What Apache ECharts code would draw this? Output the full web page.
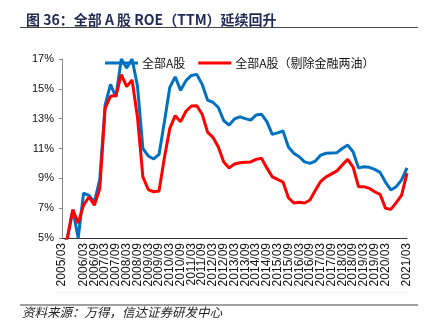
<!DOCTYPE html>
<html>
<head>
<meta charset="utf-8">
<script src="https://cdn.jsdelivr.net/npm/echarts@6/dist/echarts.min.js"></script>
<style>
html,body{margin:0;padding:0;background:#fff;}
#chart{width:438px;height:323px;}
</style>
</head>
<body>
<div id="chart"></div>
<script>
var categories = [
'2005/03','2005/06','2005/09','2005/12','2006/03','2006/06','2006/09','2006/12',
'2007/03','2007/06','2007/09','2007/12','2008/03','2008/06','2008/09','2008/12',
'2009/03','2009/06','2009/09','2009/12','2010/03','2010/06','2010/09','2010/12',
'2011/03','2011/06','2011/09','2011/12','2012/03','2012/06','2012/09','2012/12',
'2013/03','2013/06','2013/09','2013/12','2014/03','2014/06','2014/09','2014/12',
'2015/03','2015/06','2015/09','2015/12','2016/03','2016/06','2016/09','2016/12',
'2017/03','2017/06','2017/09','2017/12','2018/03','2018/06','2018/09','2018/12',
'2019/03','2019/06','2019/09','2019/12','2020/03','2020/06','2020/09','2020/12',
'2021/03'];

var allA = [
4.5, 5.0, 6.9, 5.0, 8.0, 7.85, 7.4, 8.9,
13.9, 15.3, 14.45, 17.0, 16.4, 17.0, 15.2, 11.0,
10.5, 10.3, 10.6, 12.8, 15.1, 15.8, 14.9, 15.55,
15.9, 15.97, 15.3, 14.25, 14.1, 13.75, 12.87, 12.57,
12.98, 13.12, 13.0, 12.9, 13.24, 13.3, 12.8, 11.95,
12.05, 12.17, 11.1, 10.68, 10.45, 10.1, 10.0, 10.16,
10.56, 10.68, 10.7, 10.72, 11.0, 11.23, 10.78, 9.7,
9.78, 9.74, 9.6, 9.4, 8.75, 8.22, 8.44, 8.9,
9.7];

var exFin = [
4.5, 5.0, 6.9, 6.0, 7.2, 7.75, 7.2, 8.3,
13.7, 14.5, 14.55, 15.95, 15.15, 15.6, 13.1, 9.1,
8.25, 8.1, 8.15, 10.4, 12.35, 13.2, 12.8, 13.5,
13.85, 13.87, 13.3, 12.1, 11.75, 11.1, 10.1, 9.7,
9.96, 10.05, 10.08, 10.1, 10.27, 10.34, 9.7, 9.1,
8.93, 8.75, 7.7, 7.35, 7.4, 7.35, 7.55, 8.2,
8.8, 9.1, 9.3, 9.5, 9.9, 10.27, 9.75, 8.44,
8.44, 8.33, 8.1, 7.93, 7.0, 6.92, 7.37, 7.88,
9.35];

var yTicks = {min: 5, max: 17, interval: 2};
var seriesNames = ['全部A股', '全部A股（剔除金融两油）'];

var chart = echarts.init(document.getElementById('chart'), null, {renderer: 'canvas'});
chart.setOption({
  animation: false,
  backgroundColor: '#fff',
  title: {
    text: '图 36：全部 A 股 ROE（TTM）延续回升',
    left: 21, top: 8,
    textStyle: {fontSize: 14, fontWeight: 'bold', color: '#1f2a55', fontFamily: '"Noto Sans CJK SC", "Liberation Sans", sans-serif'}
  },
  graphic: [
    {type: 'line', shape: {x1: 20, y1: 27.5, x2: 418, y2: 27.5}, style: {stroke: '#444', lineWidth: 1}},
    {type: 'line', shape: {x1: 58, y1: 292.5, x2: 408, y2: 292.5}, style: {stroke: '#ddd', lineWidth: 1, lineDash: [1, 3]}},
    {type: 'line', shape: {x1: 20, y1: 305, x2: 418, y2: 305}, style: {stroke: '#808080', lineWidth: 1.5}},
    {type: 'text', left: 22, top: 306, style: {text: '资料来源：万得，信达证券研发中心', fontSize: 12.5, fontStyle: 'italic', fill: '#222', fontFamily: '"Noto Sans CJK SC", sans-serif'}}
  ],
  legend: {
    left: 100, top: 52,
    itemWidth: 33, itemHeight: 3, itemGap: 13,
    icon: 'rect',
    textStyle: {fontSize: 12, color: '#111', fontWeight: 'normal', fontFamily: '"Noto Sans CJK SC", sans-serif', padding: [0, 0, 0, -1]},
    data: seriesNames
  },
  grid: {left: 62, right: 31, top: 59, bottom: 85, containLabel: false},
  xAxis: {
    type: 'category',
    data: categories,
    boundaryGap: false,
    axisLine: {lineStyle: {color: '#333', width: 1}},
    axisTick: {show: false},
    axisLabel: {interval: 1, rotate: 90, fontSize: 12, color: '#111', margin: 5, showMinLabel: true, showMaxLabel: true, hideOverlap: false, fontFamily: '"Liberation Sans", Arial, sans-serif'},
    splitLine: {show: false}
  },
  yAxis: {
    type: 'value',
    min: yTicks.min, max: yTicks.max, interval: yTicks.interval,
    axisLine: {show: true, lineStyle: {color: '#888', width: 1}},
    axisTick: {show: true, length: 3, lineStyle: {color: '#888'}},
    axisLabel: {formatter: '{value}%', fontSize: 11, color: '#111', margin: 8, fontFamily: '"Liberation Sans", Arial, sans-serif'},
    splitLine: {show: false}
  },
  series: [
    {name: seriesNames[0], type: 'line', data: allA, showSymbol: false, symbol: 'none', lineStyle: {color: '#0070C0', width: 3}, itemStyle: {color: '#0070C0'}},
    {name: seriesNames[1], type: 'line', data: exFin, showSymbol: false, symbol: 'none', lineStyle: {color: '#FF0000', width: 3}, itemStyle: {color: '#FF0000'}}
  ]
});
</script>
</body>
</html>
